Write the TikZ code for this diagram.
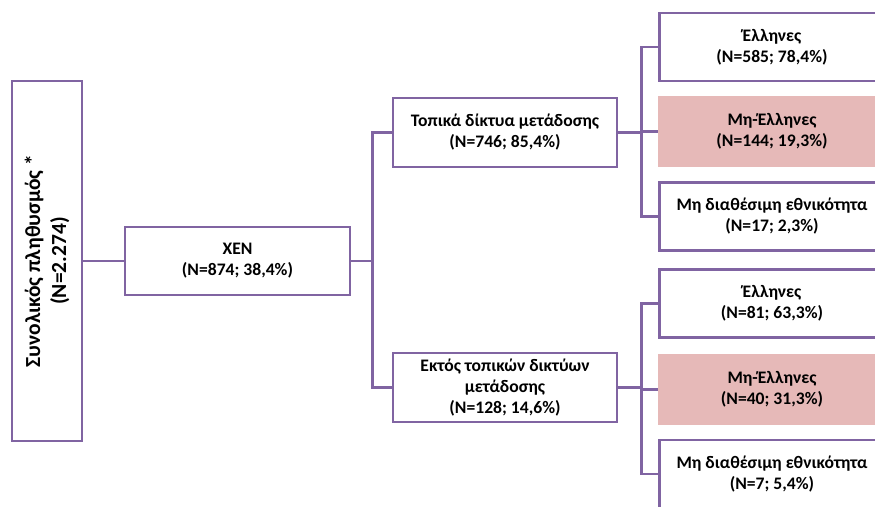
\documentclass[tikz,border=0pt]{standalone}
\usepackage{fontspec}
\setmainfont{Carlito}
\usetikzlibrary{positioning}
\definecolor{lila}{HTML}{8064A2}
\definecolor{rosa}{HTML}{E6B9B8}
\begin{document}
\begin{tikzpicture}[x=1pt,y=-1pt,
  kasten/.style={draw=lila,line width=2.6pt,fill=white,align=center,inner sep=0pt,
    minimum width=225pt,minimum height=68pt,font=\fontsize{17.6}{21}\selectfont\bfseries},
  hervor/.style={kasten,draw=rosa,fill=rosa},
  linie/.style={draw=lila,line width=2.6pt}]
  \useasboundingbox (0,0) rectangle (875,506);
  \clip (0,0) rectangle (875,506);

  % Gesamtbevoelkerung
  \node[kasten,rotate=90,minimum width=360pt,minimum height=70pt,
    font=\fontsize{21.5}{26}\selectfont\bfseries] (gesamt) at (47,261)
    {Συνολικός πληθυσμός *\\(N=2.274)};

  % erste Ebene
  \node[kasten] (xen) at (237.5,261) {XEN\\(N=874; 38,4\%)};

  % zweite Ebene
  \node[kasten,minimum width=224pt,minimum height=69pt] (lokal) at (505,132.5)
    {Τοπικά δίκτυα μετάδοσης\\(N=746; 85,4\%)};
  \node[kasten,minimum width=224pt,minimum height=69pt] (extern) at (505,387.5)
    {Εκτός τοπικών δικτύων\\μετάδοσης\\(N=128; 14,6\%)};

  % dritte Ebene, oben
  \node[kasten] (lokalA) at (772,47) {Έλληνες\\(N=585; 78,4\%)};
  \node[hervor] (lokalB) at (772,131.5) {Μη-Έλληνες\\(N=144; 19,3\%)};
  \node[kasten] (lokalC) at (772,216.5) {Μη διαθέσιμη εθνικότητα\\(N=17; 2,3\%)};

  % dritte Ebene, unten
  \node[kasten] (externA) at (772,303.5) {Έλληνες\\(N=81; 63,3\%)};
  \node[hervor] (externB) at (772,389.5) {Μη-Έλληνες\\(N=40; 31,3\%)};
  \node[kasten] (externC) at (772,474) {Μη διαθέσιμη εθνικότητα\\(N=7; 5,4\%)};

  % Verbindungslinien
  \draw[linie] (gesamt.south) -- (xen.west);
  \draw[linie] (xen.east) -- ++(21,0) |- (lokal.west);
  \draw[linie] (xen.east) -- ++(21,0) |- (extern.west);
  \foreach \z in {lokalA,lokalB,lokalC}
    \draw[linie] (lokal.east) -- ++(23,0) |- (\z.west);
  \foreach \z in {externA,externB,externC}
    \draw[linie] (extern.east) -- ++(23,0) |- (\z.west);
\end{tikzpicture}
\end{document}
